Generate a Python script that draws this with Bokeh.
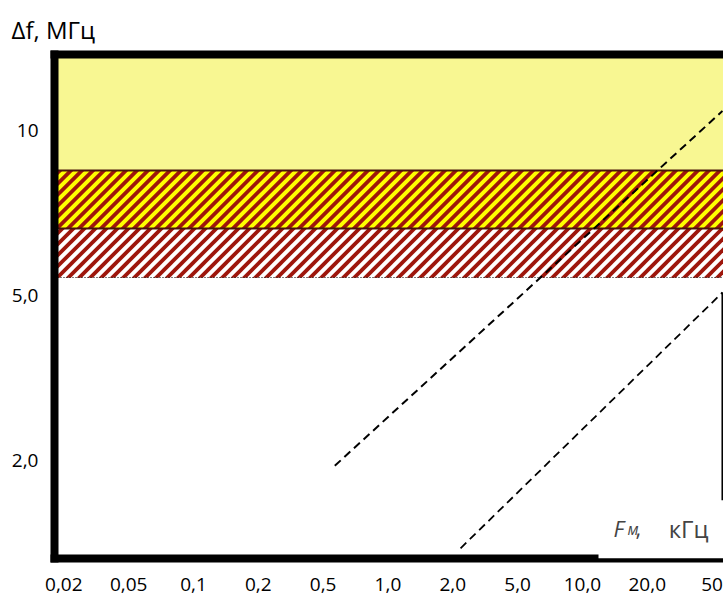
from bokeh.plotting import figure
from bokeh.models import Range1d, FixedTicker, LinearAxis, Label, BoxAnnotation, Title
from bokeh.embed import file_html
from bokeh.resources import INLINE

# ---- data (axis units: tick index positions) ----
x_labels = ["0,02", "0,05", "0,1", "0,2", "0,5", "1,0", "2,0", "5,0", "10,0", "20,0", "50"]
x_ticks = list(range(len(x_labels)))
y_labels = ["2,0", "5,0", "10"]
y_ticks = [0, 1, 2]

# horizontal zones (bottom, top) in y-axis units
zone_light_yellow = (1.76, 2.70)
zone_hatch_yellow = (1.41, 1.76)
zone_hatch_white = (1.11, 1.41)

# dashed boundary lines
line1_x = [4.18, 10.16]
line1_y = [-0.03, 2.12]
line2_x = [6.12, 10.16]
line2_y = [-0.53, 1.02]
# right vertical line
edge_x = [10.16, 10.16]
edge_y = [-0.24, 1.02]

FONT = "Open Sans"
DARK_RED = "#9E160C"

# ---- figure geometry ----
X0, X1 = -0.1435, 10.176
Y0, Y1 = -0.592, 2.4624
FRAME_W, FRAME_H = 669, 504
PX_X = FRAME_W / (X1 - X0)
PX_Y = FRAME_H / (Y1 - Y0)

p = figure(width=723, height=604,
           x_range=Range1d(X0, X1), y_range=Range1d(Y0, Y1),
           output_backend="svg", toolbar_location=None,
           min_border_left=54, min_border_right=0, min_border_top=54, min_border_bottom=46)
p.grid.visible = False
p.outline_line_color = None
p.background_fill_color = "white"

# title
p.title = Title(text="Δf, МГц", align="left", offset=-43, standoff=18, text_font=FONT,
                text_font_size="24px", text_font_style="normal", text_color="black")


# 45-degree hatching texture (stripe polygons covering a zone)
def stripe_polys(zone, period=11.0, stripe=5.4):
    y_lo, y_hi = zone
    h = (y_hi - y_lo) * PX_Y
    xs, ys = [], []
    for k in range(-int(h // period) - 2, int(FRAME_W // period) + 3):
        u = k * period
        px = [u, u + stripe, u + stripe + h, u + h]
        xs.append([X0 + v / PX_X for v in px])
        ys.append([y_lo, y_lo, y_hi, y_hi])
    return xs, ys


# zones
p.hstrip(y0=[zone_light_yellow[0]], y1=[zone_light_yellow[1]],
         fill_color="#F8F792", line_color=None)
p.hstrip(y0=[zone_hatch_yellow[0]], y1=[zone_hatch_yellow[1]],
         fill_color="#FFFF00", line_color=None)
for zone in (zone_hatch_yellow, zone_hatch_white):
    sx, sy = stripe_polys(zone)
    p.patches(sx, sy, fill_color=DARK_RED, line_color=None)
p.hspan(y=[zone_hatch_yellow[1], zone_hatch_yellow[0]], line_color="#4A160A", line_width=2)
p.hspan(y=[zone_hatch_white[0]], line_color="black", line_width=1, line_dash="1 2")

# dashed lines
p.line(line1_x, line1_y, line_color="black", line_width=2, line_dash="8 5")
p.line(line2_x, line2_y, line_color="black", line_width=1.8, line_dash="8 5")
p.line(edge_x, edge_y, line_color="black", line_width=2)

# axes
for ax, ticks, labels in ((p.xaxis[0], x_ticks, x_labels), (p.yaxis[0], y_ticks, y_labels)):
    ax.ticker = FixedTicker(ticks=ticks)
    ax.major_label_overrides = {t: l for t, l in zip(ticks, labels)}
    ax.major_tick_line_color = None
    ax.minor_tick_line_color = None
    ax.major_tick_out = 0
    ax.major_tick_in = 0
    ax.minor_tick_out = 0
    ax.minor_tick_in = 0
    ax.axis_line_width = 8
    ax.axis_line_color = "black"
    ax.axis_line_cap = "square"
    ax.major_label_text_font = FONT
    ax.major_label_text_font_size = "19px"
    ax.major_label_text_color = "black"
p.xaxis.major_label_standoff = 19
p.yaxis.major_label_standoff = 16

top_ax = LinearAxis(ticker=FixedTicker(ticks=[]), axis_line_width=8, axis_line_color="black",
                    axis_line_cap="square", major_tick_line_color=None, minor_tick_line_color=None,
                    major_tick_out=0, major_tick_in=0, minor_tick_out=0, minor_tick_in=0,
                    major_label_standoff=0, major_label_text_font_size="0px")
p.add_layout(top_ax, "above")

# white box behind the x-axis title (breaks the thick axis line)
p.add_layout(BoxAnnotation(left=8.248, top=-0.24, fill_color="white", fill_alpha=1.0,
                           line_color=None, line_alpha=0))

# x-axis title: F_м, кГц
p.add_layout(Label(x=8.479, y=-0.41, text="F", text_font=FONT, text_font_style="italic",
                   text_font_size="22px", text_align="left", text_baseline="alphabetic"))
p.add_layout(Label(x=8.695, y=-0.415, text="м", text_font=FONT, text_font_style="italic",
                   text_font_size="16px", text_align="left", text_baseline="alphabetic"))
p.add_layout(Label(x=8.820, y=-0.41, text=",", text_font=FONT,
                   text_font_size="22px", text_align="left", text_baseline="alphabetic"))
p.add_layout(Label(x=9.330, y=-0.41, text="кГц", text_font=FONT,
                   text_font_size="24px", text_align="left", text_baseline="alphabetic"))

open("out.html", "w").write(file_html(p, INLINE))
